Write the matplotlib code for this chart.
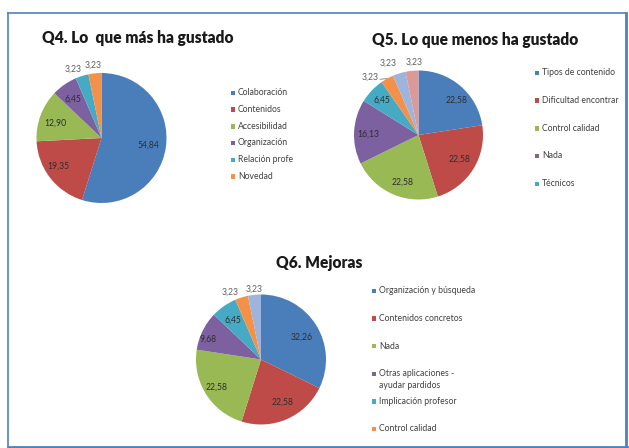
import matplotlib
matplotlib.use("Agg")
import matplotlib.pyplot as plt
import numpy as np
from matplotlib.patches import Rectangle
from matplotlib.lines import Line2D

W, H = 629, 448

q4_title = "Q4. Lo  que más ha gustado"
q4_labels = ["Colaboración", "Contenidos", "Accesibilidad", "Organización",
             "Relación profe", "Novedad"]
q4_values = [54.84, 19.35, 12.90, 6.45, 3.23, 3.23]

q5_title = "Q5. Lo que menos ha gustado"
q5_labels = ["Tipos de contenido", "Dificultad encontrar", "Control calidad",
             "Nada", "Técnicos"]
q5_values = [22.58, 22.58, 22.58, 16.13, 6.45, 3.23, 3.23, 3.23]

q6_title = "Q6. Mejoras"
q6_labels = ["Organización y búsqueda", "Contenidos concretos", "Nada",
             "Otras aplicaciones -\nayudar pardidos", "Implicación profesor",
             "Control calidad"]
q6_values = [32.26, 22.58, 22.58, 9.68, 6.45, 3.23, 3.23]

colors = ["#4A7EBB", "#BE4B48", "#98B954", "#7D60A0", "#46AAC5", "#F39148",
          "#9EB4DD", "#D99A99"]

FONT = "Lato"
plt.rcParams["font.family"] = [FONT, "DejaVu Sans"]

fig = plt.figure(figsize=(W / 100, H / 100), dpi=100)


def fx(x):
    return x / W


def fy(y):
    return 1 - y / H


def pie_chart(values, cx, cy, r, label_r, label_dang, leader=None):
    ax = fig.add_axes([fx(cx - r), fy(cy + r), 2 * r / W, 2 * r / H])
    wedges, _ = ax.pie(values, colors=colors[:len(values)], startangle=90,
                       counterclock=False, radius=1,
                       wedgeprops=dict(linewidth=0))
    ax.set_xlim(-1, 1)
    ax.set_ylim(-1, 1)
    ax.set_aspect("equal")
    ax.axis("off")
    for i, (w, v) in enumerate(zip(wedges, values)):
        mid = (w.theta1 + w.theta2) / 2 + label_dang[i]
        d = label_r[i]
        col = "#2e2e2e" if d < 1 else "#606060"
        ax.text(d * np.cos(np.radians(mid)), d * np.sin(np.radians(mid)),
                f"{v:.2f}".replace(".", ","), ha="center", va="center",
                fontsize=6.2, color=col, clip_on=False)
    if leader is not None:
        i, r0, r1, dang = leader
        w = wedges[i]
        mid = (w.theta1 + w.theta2) / 2
        a1 = np.radians(mid)
        a2 = np.radians(mid + dang)
        ax.add_line(Line2D([r0 * np.cos(a1), r1 * np.cos(a2)],
                           [r0 * np.sin(a1), r1 * np.sin(a2)],
                           color="#808080", lw=0.6, clip_on=False))
    return ax


def legend(labels, x, y0, step, size=6.2):
    for i, lab in enumerate(labels):
        y = y0 + i * step
        fig.add_artist(Rectangle((fx(x - 2.2), fy(y + 2.2)), 4.4 / W, 4.4 / H,
                                 transform=fig.transFigure,
                                 facecolor=colors[i], edgecolor="none"))
        fig.text(fx(x + 5), fy(y - 4.7), lab, ha="left", va="top",
                 fontsize=size, color="#404040", linespacing=1.4)


# Q4
pie_chart(q4_values, 101.5, 138, 65,
          [0.73, 0.79, 0.75, 0.74, 1.14, 1.13],
          [0, -4, 3, 1, 5, 1])
fig.text(fx(138), fy(38), q4_title, ha="center", va="center",
         fontsize=11.2, fontweight="heavy", color="#1a1a1a")
legend(q4_labels, 233, 93, 16.7)

# Q5
pie_chart(q5_values, 418.5, 135, 64.5,
          [0.80, 0.74, 0.77, 0.78, 0.78, 1.17, 1.21, 1.13],
          [-7, 2, 4, 2, 0, 11, 5.6, -2],
          leader=(5, 1.0, 1.05, 5.5))
fig.text(fx(475), fy(40), q5_title, ha="center", va="center",
         fontsize=11.2, fontweight="heavy", color="#1a1a1a")
legend(q5_labels, 537, 73, 27.7)

# Q6
pie_chart(q6_values, 261, 359.5, 65,
          [0.72, 0.74, 0.80, 0.87, 0.75, 1.14, 1.08],
          [-3, 3, 0, 5, 1, 7, 0])
fig.text(fx(319), fy(263), q6_title, ha="center", va="center",
         fontsize=11.2, fontweight="heavy", color="#1a1a1a")
legend(q6_labels, 374, 291, 27.6)

# Border
bc = "#4F81BD"
fig.add_artist(Line2D([fx(8), fx(626)], [fy(13), fy(13)], color=bc, lw=1.2,
                      transform=fig.transFigure))
fig.add_artist(Line2D([fx(8), fx(8)], [fy(13), fy(446)], color=bc, lw=1.2,
                      transform=fig.transFigure))
fig.add_artist(Line2D([fx(626), fx(626)], [fy(13), fy(446.5)], color=bc,
                      lw=2.0, transform=fig.transFigure))
fig.add_artist(Line2D([fx(8), fx(627)], [fy(446.5), fy(446.5)], color=bc,
                      lw=2.0, transform=fig.transFigure))

fig.savefig("out.png", dpi=100, facecolor="white")
